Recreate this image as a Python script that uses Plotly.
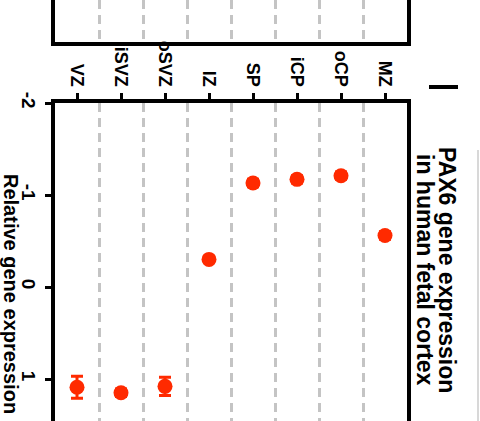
import plotly.graph_objects as go

categories = ["VZ", "iSVZ", "oSVZ", "IZ", "SP", "iCP", "oCP", "MZ"]
values = [1.09, 1.15, 1.08, -0.30, -1.13, -1.17, -1.21, -0.56]
errors = [0.12, 0.04, 0.10, 0.03, 0.04, 0.04, 0.04, 0.04]
y_ticks = [-2, -1, 0, 1]

W, H = 480, 421
L, R, T, B = 55, 73, 0, 0
pw = W - L - R

def px(x):
    return (x - L) / pw

def py(y):
    return (H - y) / H

red = "#ff2a00"
xs = list(range(len(categories)))

fig = go.Figure()
fig.add_trace(go.Scatter(
    x=xs, y=values, mode="markers",
    marker=dict(color=red, size=15, symbol="circle"),
    error_y=dict(type="data", array=errors, color=red, thickness=3, width=6),
    xaxis="x", yaxis="y", showlegend=False,
))
# upper panel (partial, cropped)
fig.add_trace(go.Scatter(x=[None], y=[None], xaxis="x2", yaxis="y2", showlegend=False))

grid_minor = dict(tick0=0.5, dtick=1, showgrid=True, gridcolor="#c4c4c4",
                  griddash="9px,6px", gridwidth=2.5, ticks="")

fig.update_layout(
    width=W, height=H,
    margin=dict(l=L, r=R, t=T, b=B, autoexpand=False),
    paper_bgcolor="white", plot_bgcolor="white",
    font=dict(family="Liberation Sans, Arial", color="black"),
    xaxis=dict(
        domain=[0, 1], anchor="y", side="top", automargin=False,
        range=[-0.5, 7.5], tickvals=xs,
        ticktext=["<b>%s</b>" % c for c in categories],
        tickangle=90, tickfont=dict(size=18),
        showline=True, linecolor="black", linewidth=4,
        ticks="outside", ticklen=6, tickwidth=3, tickcolor="black",
        showgrid=False, zeroline=False, minor=grid_minor,
    ),
    yaxis=dict(
        domain=[0, py(103)], anchor="x", automargin=False,
        range=[(421 - 103) / 92 - 2, -2],
        tickvals=y_ticks, ticktext=["<b>%d</b>" % v for v in y_ticks],
        tickangle=90, tickfont=dict(size=19),
        showline=True, mirror=True, linecolor="black", linewidth=4,
        ticks="outside", ticklen=6, tickwidth=3, tickcolor="black",
        showgrid=False, zeroline=False,
    ),
    xaxis2=dict(
        domain=[0, 1], anchor="y2", range=[-0.5, 7.5], automargin=False,
        showticklabels=False, ticks="",
        showline=True, linecolor="black", linewidth=4,
        showgrid=False, zeroline=False, minor=grid_minor,
    ),
    yaxis2=dict(
        domain=[py(42), 1], anchor="x2", range=[0, 1], automargin=False,
        showticklabels=False, ticks="",
        showline=True, mirror=True, linecolor="black", linewidth=4,
        showgrid=False, zeroline=False,
    ),
    annotations=[
        dict(text="<b>PAX6 gene expression</b>",
             x=px(447), y=py(270), xref="paper", yref="paper",
             textangle=90, showarrow=False, font=dict(size=23),
             xanchor="center", yanchor="middle"),
        dict(text="<b>in human fetal cortex</b>",
             x=px(425), y=py(270), xref="paper", yref="paper",
             textangle=90, showarrow=False, font=dict(size=23),
             xanchor="center", yanchor="middle"),
        dict(text="<b>Relative gene expression</b>",
             x=px(11), y=py(294), xref="paper", yref="paper",
             textangle=90, showarrow=False, font=dict(size=20),
             xanchor="center", yanchor="middle"),
    ],
    shapes=[
        dict(type="line", xref="paper", yref="paper",
             x0=px(429), x1=px(458), y0=py(87), y1=py(87),
             line=dict(color="black", width=4)),
        dict(type="line", xref="paper", yref="paper",
             x0=px(478), x1=px(478), y0=py(150), y1=py(421),
             line=dict(color="#d8d8d8", width=2)),
    ],
)

fig.write_html("out.html", config={"displayModeBar": False},
               post_script="document.body.style.margin='0px';")
